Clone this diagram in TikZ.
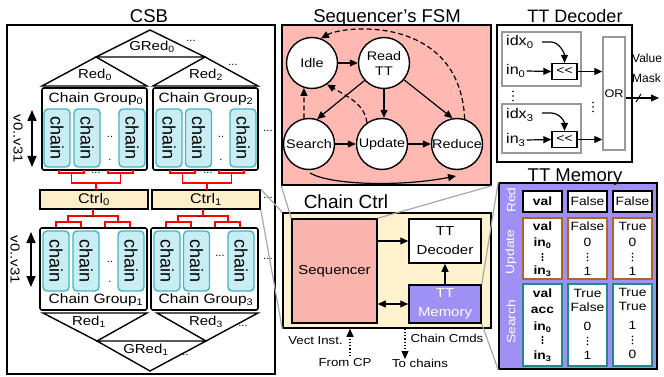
\documentclass[tikz,border=0pt]{standalone}
\usepackage{fontspec}
\setmainfont{Liberation Sans}
\newfontfamily\wf{Liberation Sans}[FakeStretch=1.15]
\usetikzlibrary{arrows.meta,calc}
\definecolor{fsmpink}{HTML}{FFB8B2}
\definecolor{seqpink}{HTML}{F9B4AE}
\definecolor{ctrlyel}{HTML}{FCEFC9}
\definecolor{ccyel}{HTML}{FFF2CF}
\definecolor{chainfill}{HTML}{C8EDF3}
\definecolor{chainbd}{HTML}{44B5C6}
\definecolor{ttpurp}{HTML}{9E90F5}
\definecolor{updbd}{HTML}{B4641E}
\definecolor{srchbd}{HTML}{1F8C7F}
\definecolor{zoomgr}{HTML}{A8A8A8}
\definecolor{decgr}{HTML}{999999}
\newcommand\myfs[2]{\fontsize{#1}{#2}\selectfont}
\newcommand\sbs[1]{\textsubscript{#1}}
% vertical dots drawn as small discs: x, y, spacing, radius
\newcommand\vdts[4]{\fill (#1,#2-#3) circle (#4); \fill (#1,#2) circle (#4); \fill (#1,#2+#3) circle (#4);}
\newcommand\uptree[1]{%
  \draw[rtree] (#1-37,170) |- (#1-12,173) -- (#1-12,170);
  \draw[rtree] (#1+12,170) |- (#1+37,173) -- (#1+37,170);
  \draw[rtree] (#1-24.5,173) |- (#1+24.5,183) -- (#1+24.5,173);
  \draw[rtree] (#1,183) -- (#1,190);}
\newcommand\downtree[1]{%
  \draw[rtree] (#1,209) -- (#1,216);
  \draw[rtree] (#1-25,222) |- (#1+25,216) -- (#1+25,222);
  \draw[rtree] (#1-37,228) |- (#1-12,222) -- (#1-12,228);
  \draw[rtree] (#1+12,228) |- (#1+37,222) -- (#1+37,228);}
\begin{document}
\begin{tikzpicture}[x=1pt,y=-1pt,
  title/.style={font=\myfs{18.5}{20}, inner sep=0pt},
  lbl/.style={font=\wf\myfs{13}{15}, inner sep=0pt},
  grplbl/.style={font=\wf\myfs{13.5}{15}, inner sep=0pt},
  dotl/.style={font=\myfs{11}{11}, inner sep=0pt},
  tri/.style={draw, line width=1.4pt, fill=white, line join=miter},
  grp/.style={draw, line width=1.6pt, rounded corners=2pt, fill=white, inner sep=0pt},
  chainbox/.style={draw=chainbd, fill=chainfill, line width=1.4pt, rounded corners=4pt, minimum height=26pt, inner sep=0pt, rotate=-90, font=\myfs{18}{20}},
  ctrlbox/.style={draw, fill=ctrlyel, line width=1.5pt, minimum width=108pt, minimum height=19pt, inner sep=0pt, font=\wf\myfs{14}{16}},
  rtree/.style={draw=red, line width=1.2pt},
  zoomline/.style={draw=zoomgr, line width=1.2pt},
  state/.style={circle, draw, fill=white, line width=1.4pt, minimum size=51pt, inner sep=0pt, font=\wf\myfs{12.5}{15}, align=center},
  arr/.style={line width=1.2pt, -{Triangle[width=7pt,length=8pt]}},
  darr/.style={arr, dash pattern=on 5pt off 3pt},
  varr/.style={line width=1.3pt, {Triangle[width=9pt,length=11pt]}-{Triangle[width=9pt,length=11pt]}},
  dotarr/.style={line width=1.2pt, dotted, -{Triangle[width=7pt,length=8pt]}},
  decbox/.style={draw=decgr, line width=1.5pt, inner sep=0pt},
  shbox/.style={draw, line width=1.3pt, fill=white, minimum width=25pt, minimum height=16pt, inner sep=0pt, font=\wf\myfs{12}{14}},
  dectxt/.style={font=\wf\myfs{14}{16}, inner sep=0pt, anchor=west},
  cellR/.style={draw, fill=white, line width=1.5pt, minimum width=39pt, minimum height=21pt, inner sep=0pt, font=\wf\myfs{12}{14}},
  cellU/.style={draw=updbd, fill=white, line width=1.5pt, minimum width=39pt, minimum height=61pt, inner sep=0pt},
  cellS/.style={draw=srchbd, fill=white, line width=1.5pt, minimum width=39pt, minimum height=82pt, inner sep=0pt},
  ct/.style={font=\wf\myfs{12}{14}, inner sep=0pt, text height=8.6pt, text depth=0pt},
  cb/.style={ct, font=\wf\bfseries\myfs{12}{14}},
  rowlbl/.style={font=\wf\myfs{12}{14}, text=white, inner sep=0pt, rotate=90}
]
\useasboundingbox (0,0) rectangle (664,377);
\fill[white] (0,0) rectangle (664,377);

%% ================= CSB =================
\node[draw, line width=1.6pt, minimum width=268pt, minimum height=349pt, inner sep=0pt] (csb) at (141,199.5) {};
\node[title, anchor=base] (csbt) at (149,22.5) {CSB};

\coordinate (g0a) at (150,30); \coordinate (r0a) at (96,57); \coordinate (r2a) at (205,57);
\draw[tri] (r0a) -- (g0a) -- (r2a) -- cycle;
\draw[tri] (42,86) -- (r0a) -- (147,86) -- cycle;
\draw[tri] (153,86) -- (r2a) -- (258,86) -- cycle;
\node[lbl] (g0l) at (152,47) {GRed\sbs{0}};
\node[dotl] (g0d) at (191,41) {...};
\node[lbl] (r0l) at (95,75) {Red\sbs{0}};
\node[lbl] (r2l) at (206,75) {Red\sbs{2}};
\node[dotl] (r2d) at (233,65) {...};

\node[grp, minimum width=105pt, minimum height=82pt] (cg0) at (94.5,129) {};
\node[grplbl] (cg0l) at (96,99) {Chain Group\sbs{0}};
\node[grp, minimum width=105pt, minimum height=82pt] (cg2) at (205.5,129) {};
\node[grplbl] (cg2l) at (206,99) {Chain Group\sbs{2}};

\node[chainbox, minimum width=58pt] (c00) at (57,138) {chain};
\node[chainbox, minimum width=58pt] (c01) at (87,138) {chain};
\node[chainbox, minimum width=58pt] (c02) at (132,138) {chain};
\node[chainbox, minimum width=58pt] (c20) at (169,138) {chain};
\node[chainbox, minimum width=58pt] (c21) at (198.5,138) {chain};
\node[chainbox, minimum width=58pt] (c22) at (243,138) {chain};
\node[dotl] (d0a) at (110,137) {..}; \node[dotl] (d0b) at (110,160) {.};
\node[dotl] (d2a) at (221,137) {..}; \node[dotl] (d2b) at (221,160) {.};
\node[dotl] (dr1) at (268,131) {...};

\coordinate (v1t) at (32,110); \coordinate (v1b) at (32,167);
\draw[varr] (v1t) -- (v1b);
\node[lbl, rotate=-90] (v1l) at (18,139) {v0..v31};

\node[ctrlbox] (ctrl0) at (94,199.5) {Ctrl\sbs{0}};
\node[ctrlbox] (ctrl1) at (206,199.5) {Ctrl\sbs{1}};
\node[dotl] (dr2) at (268,198) {...};

\uptree{96}
\uptree{207}
\node[dotl] (t0d) at (96,173) {...};
\node[dotl] (t1d) at (208,173) {...};
\downtree{93}
\downtree{203}
\node[dotl] (t2d) at (90,217) {...};
\node[dotl] (t3d) at (202,217) {...};

\node[grp, minimum width=107pt, minimum height=82pt] (cg1) at (93.5,269) {};
\node[grplbl] (cg1l) at (96,300) {Chain Group\sbs{1}};
\node[grp, minimum width=107pt, minimum height=82pt] (cg3) at (204.5,269) {};
\node[grplbl] (cg3l) at (206,300) {Chain Group\sbs{3}};

\node[chainbox, minimum width=60pt] (c10) at (56,261) {chain};
\node[chainbox, minimum width=60pt] (c11) at (86,261) {chain};
\node[chainbox, minimum width=60pt] (c12) at (131,261) {chain};
\node[chainbox, minimum width=60pt] (c30) at (167,261) {chain};
\node[chainbox, minimum width=60pt] (c31) at (196.5,261) {chain};
\node[chainbox, minimum width=60pt] (c32) at (241,261) {chain};
\node[dotl] (d1a) at (110,262) {..}; \node[dotl] (d1b) at (110,282) {.};
\node[dotl] (d3a) at (220,256) {...};
\node[dotl] (dr3) at (268,259) {...};

\coordinate (v2t) at (31,232); \coordinate (v2b) at (31,287);
\draw[varr] (v2t) -- (v2b);
\node[lbl, rotate=-90] (v2l) at (15,260) {v0..v31};

\coordinate (r1a) at (97,341); \coordinate (r3a) at (206,341); \coordinate (g1a) at (150,371);
\draw[tri] (43,313) -- (r1a) -- (147,313) -- cycle;
\draw[tri] (157,313) -- (r3a) -- (258,313) -- cycle;
\draw[tri] (r1a) -- (g1a) -- (r3a) -- cycle;
\node[lbl] (r1l) at (89,322) {Red\sbs{1}};
\node[lbl] (r3l) at (206,322) {Red\sbs{3}};
\node[dotl] (r3d) at (243,326) {...};
\node[lbl] (g1l) at (146,350) {GRed\sbs{1}};
\node[dotl] (g1d) at (184,355) {...};

%% ================= FSM =================
\node[draw, fill=fsmpink, line width=1.5pt, minimum width=209pt, minimum height=160pt, inner sep=0pt] (fsm) at (386.5,105) {};
\node[title, anchor=base] (fsmt) at (387,22.5) {Sequencer’s FSM};
\node[state] (idle) at (312,63) {Idle};
\node[state] (readtt) at (384,63) {Read\\TT};
\node[state] (search) at (309,144) {Search};
\node[state] (update) at (382,144) {Update};
\node[state] (reduce) at (457,144) {Reduce};
\draw[arr] (idle) -- (readtt);
\draw[arr] (readtt.222) -- (search.72);
\draw[arr] (readtt.south) -- (readtt.south |- update.north);
\draw[arr] (readtt.-40) -- (reduce.100);
\draw[arr] (search) -- (update);
\draw[arr] (update) -- (reduce);
\coordinate (sr1) at (310,173); \coordinate (sr2) at (456,176);
\draw[arr] (sr1) .. controls (330,185) and (400,187) .. (sr2);
\draw[darr] (search.101) -- (idle.252);
\draw[darr] (update.125) .. controls (364,104) and (350,98) .. (idle.-55);
\draw[darr] (reduce.73) .. controls (460,15) and (345,25) .. (idle.70);

%% ================= TT Decoder panel =================
\node[draw, fill=white, line width=1.5pt, minimum width=135pt, minimum height=137pt, inner sep=0pt] (ttdp) at (564.5,93.5) {};
\node[title, anchor=base, font=\myfs{18}{20}] (ttdt) at (575,22.5) {TT Decoder};
\node[decbox, minimum width=79pt, minimum height=54pt] (gb1) at (541.5,59) {};
\node[decbox, minimum width=79pt, minimum height=49pt] (gb2) at (541.5,128.5) {};
\node[decbox, minimum width=22pt, minimum height=113pt, font=\wf\myfs{11}{13}] (orbox) at (614,93.5) {OR};
\node[shbox] (sh1) at (564.5,71.5) {<<};
\node[shbox] (sh2) at (564.5,139.5) {<<};
\node[dectxt] (idx0) at (506,42) {idx\sbs{0}};
\node[dectxt] (in0) at (506,71) {in\sbs{0}};
\node[dectxt] (idx3) at (506,115) {idx\sbs{3}};
\node[dectxt] (in3) at (506,140) {in\sbs{3}};
\coordinate (i0s) at (542,42); \coordinate (i3s) at (542,113);
\draw[arr] (i0s) -- ++(9,0) .. controls +(8,0) and +(0,-10) .. (sh1.north);
\draw[arr] (i3s) -- ++(9,0) .. controls +(8,0) and +(0,-10) .. (sh2.north);
\draw[arr] (in0.east) ++(1,0) -- (sh1.west);
\draw[arr] (in3.east) ++(1,0) -- (sh2.west);
\draw[arr] (sh1.east) -- (sh1.east -| orbox.west);
\draw[arr] (sh2.east) -- (sh2.east -| orbox.west);
\vdts{513}{96}{4.5}{0.9pt}
\vdts{593}{107}{4.5}{0.9pt}
\node[font=\myfs{12}{20}, align=left, anchor=west, inner sep=0pt] (vm) at (632,68) {Value\\Mask};
\coordinate (outend) at (659,98);
\draw[arr] (orbox.east |- outend) -- (outend);
\draw[line width=1pt] (636,102) -- (641,94);

%% ================= TT Memory panel =================
\node[draw, fill=ttpurp, line width=1.6pt, minimum width=158pt, minimum height=186pt, inner sep=0pt] (ttmp) at (578,276) {};
\node[title, anchor=base, font=\myfs{18.5}{20}] (ttmt) at (575,182) {TT Memory};
\node[rowlbl] (rl1) at (511,200) {Red};
\node[rowlbl] (rl2) at (511,252) {Update};
\node[rowlbl] (rl3) at (511,322) {Search};
\node[cellR] (rv) at (542.5,201.5) {\bfseries val};
\node[cellR] (rf1) at (587.5,201.5) {False};
\node[cellR] (rf2) at (632.5,201.5) {False};
\node[cellU] (u1) at (542.5,248.5) {};
\node[cellU] (u2) at (587.5,248.5) {};
\node[cellU] (u3) at (632.5,248.5) {};
\node[cellS] (s1) at (542.5,325) {};
\node[cellS] (s2) at (587.5,325) {};
\node[cellS] (s3) at (632.5,325) {};
% update contents
\node[cb] (u1a) at (542.5,226) {val};
\node[cb] (u1b) at (542.5,242) {in\sbs{0}};
\vdts{542.5}{257}{3}{1.1pt}
\node[cb] (u1d) at (542.5,270) {in\sbs{3}};
\node[ct] (u2a) at (587.5,226) {False};
\node[ct] (u2b) at (587.5,242) {0};
\vdts{587.5}{257}{3.5}{0.8pt}
\node[ct] (u2d) at (587.5,271) {1};
\node[ct] (u3a) at (632.5,226) {True};
\node[ct] (u3b) at (632.5,242) {0};
\vdts{632.5}{257}{3.5}{0.8pt}
\node[ct] (u3d) at (632.5,271) {1};
% search contents
\node[cb] (s1a) at (542.5,293) {val};
\node[cb] (s1b) at (542.5,309) {acc};
\node[cb] (s1c) at (542.5,326) {in\sbs{0}};
\vdts{542.5}{340}{3}{1.1pt}
\node[cb] (s1e) at (542.5,355) {in\sbs{3}};
\node[ct] (s2a) at (587.5,293) {True};
\node[ct] (s2b) at (587.5,307) {False};
\node[ct] (s2c) at (587.5,326) {0};
\vdts{587.5}{341}{3.5}{0.8pt}
\node[ct] (s2e) at (587.5,355) {1};
\node[ct] (s3a) at (632.5,292) {True};
\node[ct] (s3b) at (632.5,306) {True};
\node[ct] (s3c) at (632.5,325) {1};
\vdts{632.5}{340}{3.5}{0.8pt}
\node[ct] (s3e) at (632.5,354) {0};

%% ================= Chain Ctrl =================
\node[draw, fill=ccyel, line width=1.5pt, minimum width=208pt, minimum height=115pt, inner sep=0pt] (cc) at (387,270.5) {};
\node[title, anchor=base, font=\myfs{19}{20}] (cct) at (346,208) {Chain Ctrl};
\node[draw, fill=seqpink, line width=1.5pt, minimum width=85pt, minimum height=104pt, inner sep=0pt, font=\wf\myfs{13}{15}] (seq) at (334.5,271) {Sequencer};
\node[draw, fill=white, line width=1.5pt, minimum width=72pt, minimum height=44pt, inner sep=0pt, align=center, font=\wf\myfs{13}{19}] (ttdec) at (445,241) {TT\\Decoder};
\node[draw, fill=ttpurp, line width=1.5pt, minimum width=72pt, minimum height=38pt, inner sep=0pt, align=center, text=white, font=\wf\myfs{13}{19}] (ttmem) at (445,304) {TT\\Memory};
\draw[arr] (seq.east |- ttdec.west) -- (ttdec.west);
\draw[arr] (ttmem.north) -- (ttdec.south);
\draw[line width=1.2pt, {Triangle[width=7pt,length=8pt]}-{Triangle[width=7pt,length=8pt]}] (seq.east |- ttmem.west) -- (ttmem.west);

\node[lbl, font=\wf\myfs{11.5}{13}] (vect) at (315.5,341) {Vect Inst.};
\node[lbl, font=\wf\myfs{11.5}{13}] (fromcp) at (345,363) {From CP};
\node[lbl, font=\wf\myfs{11.5}{13}] (cmds) at (447,338) {Chain Cmds};
\node[lbl, font=\wf\myfs{11.5}{13}] (tochains) at (420,363) {To chains};
\coordinate (cpin) at (350,356);
\draw[dotarr] (cpin) -- (cpin |- cc.south);
\coordinate (chout) at (405,359);
\draw[dotarr] (chout |- cc.south) -- (chout);

%% ================= zoom lines =================
\draw[zoomline] (ctrl1.north east) -- (cc.north west);
\draw[zoomline] (ctrl1.south east) -- (cc.south west);
\draw[zoomline] (fsm.south west) -- (seq.north west);
\draw[zoomline] (fsm.south east) -- (seq.north east);
\draw[zoomline] (ttmp.north west) -- (ttmem.north east);
\draw[zoomline] (ttmp.south west) -- (ttmem.south east);
\end{tikzpicture}
\end{document}
